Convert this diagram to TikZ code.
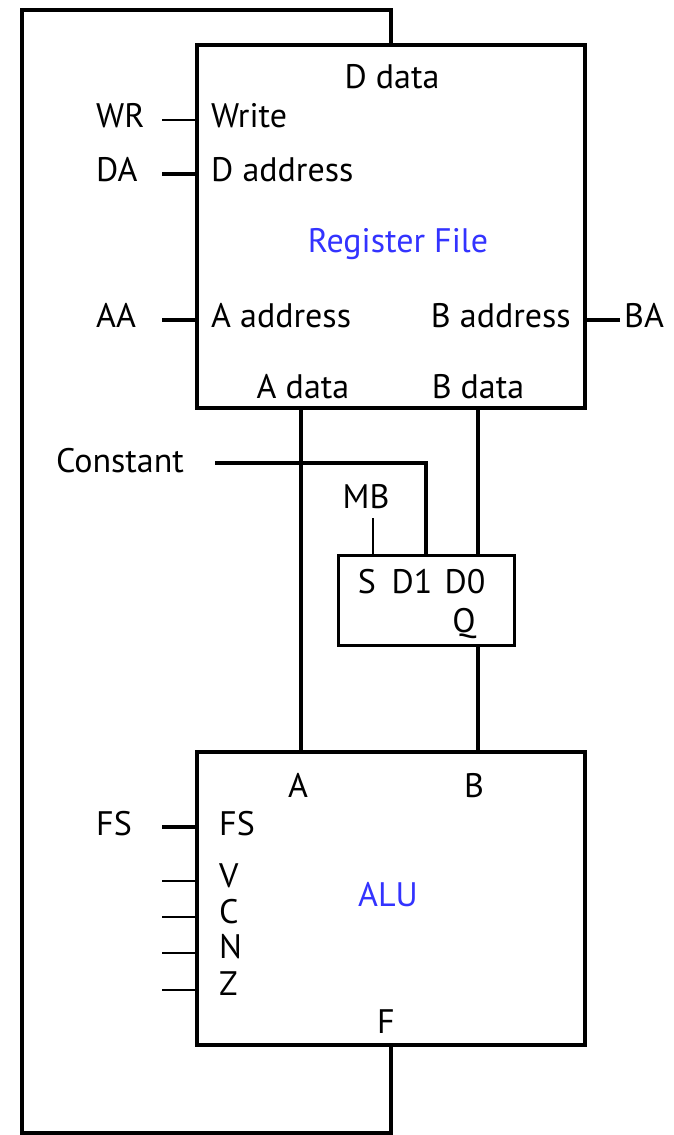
\documentclass[tikz,border=0pt]{standalone}
\usepackage{fontspec}
\setmainfont{PT Sans}
\begin{document}
\begin{tikzpicture}[x=1pt,y=-1pt,
  thickwire/.style={line width=4pt},
  thinwire/.style={line width=2pt},
  lbl/.style={font=\fontsize{34}{36}\selectfont, inner sep=0pt},
  blue lbl/.style={lbl, text={rgb,255:red,51;green,51;blue,255}},
  blk/.style={draw, rectangle, line width=4pt, inner sep=0pt}]
\useasboundingbox (0,0) rectangle (674,1135);

% blocks
\node[blk, minimum width=388pt, minimum height=363pt] (rf) at (391,226.5) {};
\node[blk, minimum width=388pt, minimum height=293pt] (alu) at (391,898.5) {};
\node[blk, line width=3pt, minimum width=176pt, minimum height=90pt] (mux) at (426,600) {};

% register file texts
\node[lbl, anchor=base] (dd) at (392,88) {D data};
\node[lbl, anchor=base west] (wr) at (211,127) {Write};
\node[lbl, anchor=base west] (dad) at (211,181) {D address};
\node[blue lbl, anchor=base] (rft) at (398,252) {Register File};
\node[lbl, anchor=base west] (aad) at (211,327) {A address};
\node[lbl, anchor=base east] (bad) at (571,327) {B address};
\node[lbl, anchor=base] (adt) at (303,398) {A data};
\node[lbl, anchor=base] (bdt) at (478,398) {B data};

% register file inputs
\node[lbl, anchor=base west] (WR) at (96,127) {WR};
\node[lbl, anchor=base west] (DA) at (96,181) {DA};
\node[lbl, anchor=base west] (AA) at (96,327) {AA};
\node[lbl, anchor=base west] (BA) at (624,327) {BA};
\coordinate (wrL) at (162,120);
\coordinate (daL) at (162,174);
\coordinate (aaL) at (162,320);
\coordinate (baR) at (620,320);
\draw[thinwire] (wrL) -- (wrL -| rf.west);
\draw[thickwire] (daL) -- (daL -| rf.west);
\draw[thickwire] (aaL) -- (aaL -| rf.west);
\draw[thickwire] (baR) -- (baR -| rf.east);

% mux texts
\node[lbl, anchor=base] (Cst) at (120,472) {Constant};
\node[lbl, anchor=base] (MB) at (366,508) {MB};
\node[lbl, anchor=base] (S) at (367,593) {S};
\node[lbl, anchor=base] (D1) at (412,593) {D1};
\node[lbl, anchor=base] (D0) at (465,593) {D0};
\node[lbl, anchor=base] (Q) at (464,632) {Q};

% mux wiring
\coordinate (cstR) at (215,463);
\coordinate (d1top) at (426,463);
\coordinate (mbB) at (373,518);
\draw[thickwire] (cstR) -- (d1top) -- (d1top |- mux.north);
\draw[thinwire] (mbB) -- (mbB |- mux.north);
\coordinate (bx) at (478,0);
\draw[thickwire] (bx |- rf.south) -- (bx |- mux.north);
\draw[thickwire] (bx |- mux.south) -- (bx |- alu.north);
\coordinate (ax) at (301,0);
\draw[thickwire] (ax |- rf.south) -- (ax |- alu.north);

% ALU texts
\node[lbl, anchor=base] (aA) at (298,797) {A};
\node[lbl, anchor=base] (aB) at (474,797) {B};
\node[lbl, anchor=base west] (FSi) at (219,835) {FS};
\node[lbl, anchor=base west] (FSo) at (96,835) {FS};
\node[lbl, anchor=base west] (V) at (219,887) {V};
\node[lbl, anchor=base west] (C) at (219,923) {C};
\node[lbl, anchor=base west] (N) at (219,958) {N};
\node[lbl, anchor=base west] (Z) at (219,995) {Z};
\node[blue lbl, anchor=base] (alut) at (388,906) {ALU};
\node[lbl, anchor=base] (F) at (386,1033) {F};

\coordinate (fsL) at (162,827);
\coordinate (vL) at (162,881);
\coordinate (cL) at (162,917);
\coordinate (nL) at (162,953);
\coordinate (zL) at (162,990);
\draw[thickwire] (fsL) -- (fsL -| alu.west);
\draw[thinwire] (vL) -- (vL -| alu.west);
\draw[thinwire] (cL) -- (cL -| alu.west);
\draw[thinwire] (nL) -- (nL -| alu.west);
\draw[thinwire] (zL) -- (zL -| alu.west);

% feedback loop
\coordinate (tl) at (22,10);
\coordinate (bl) at (22,1133);
\draw[thickwire, line join=miter] (rf.north) |- (tl) -- (bl) -| (alu.south);
\end{tikzpicture}
\end{document}
